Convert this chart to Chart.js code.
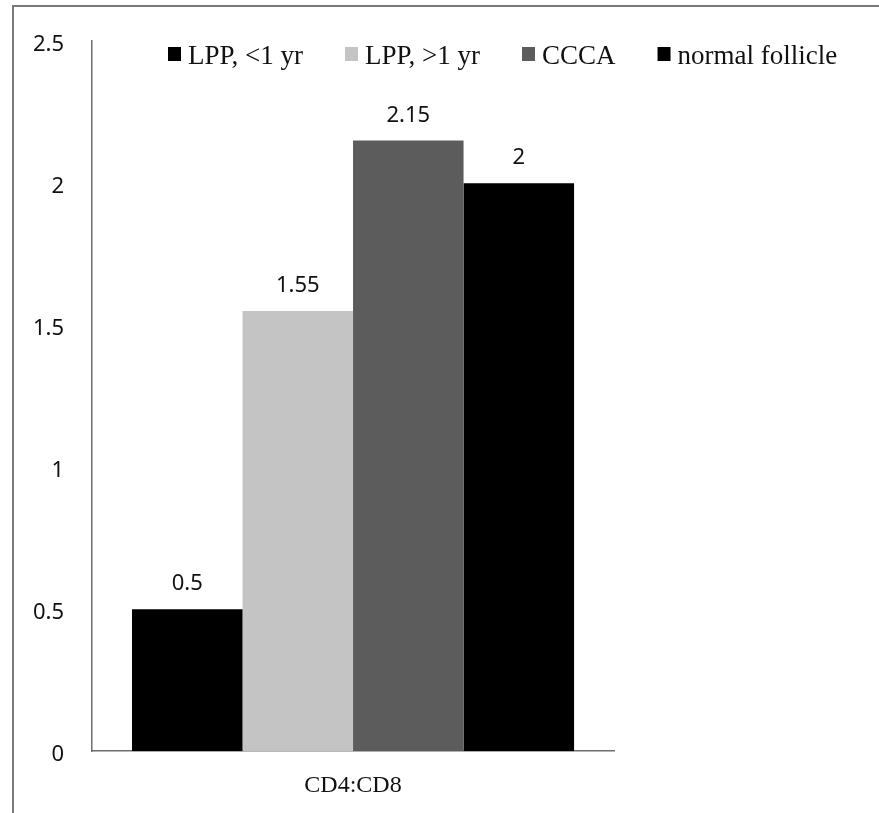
<!DOCTYPE html>
<html>
<head>
<meta charset="utf-8">
<title>CD4:CD8</title>
<script src="https://cdn.jsdelivr.net/npm/chart.js@4"></script>
<style>
  html, body { margin: 0; padding: 0; background: #fff; }
  #wrap { width: 879px; height: 813px; position: relative; }
</style>
</head>
<body>
<div id="wrap"><canvas id="chart"></canvas></div>
<script>
// ---------- data ----------
const categories = ['CD4:CD8'];
const seriesNames = ['LPP, <1 yr', 'LPP, >1 yr', 'CCCA', 'normal follicle'];
const seriesValues = [[0.5], [1.55], [2.15], [2]];
const seriesColors = ['#000000', '#c4c4c4', '#5c5c5c', '#000000'];
const yTicks = [0, 0.5, 1, 1.5, 2, 2.5];

const serif = '"Liberation Serif", "DejaVu Serif", serif';
const sans = '"Noto Sans", "Open Sans", sans-serif';

// ---------- plugins ----------
// outer frame (cropped, only top and left edge visible)
const framePlugin = {
  id: 'frame',
  beforeDraw(chart) {
    const ctx = chart.ctx;
    ctx.save();
    ctx.strokeStyle = '#7a7a7a';
    ctx.lineWidth = 2;
    ctx.beginPath();
    ctx.moveTo(chart.width, 6);
    ctx.lineTo(13, 6);
    ctx.lineTo(13, chart.height);
    ctx.stroke();
    ctx.restore();
  }
};

// value labels above bars
const valueLabels = {
  id: 'valueLabels',
  afterDatasetsDraw(chart) {
    const ctx = chart.ctx;
    ctx.save();
    ctx.font = '22px ' + sans;
    ctx.fillStyle = '#111';
    ctx.textAlign = 'center';
    ctx.textBaseline = 'alphabetic';
    chart.data.datasets.forEach((ds, i) => {
      chart.getDatasetMeta(i).data.forEach((bar, j) => {
        ctx.fillText(String(ds.data[j]), bar.x, bar.y - 19);
      });
    });
    ctx.restore();
  }
};

// legend drawn over the plot, in one row
const topLegend = {
  id: 'topLegend',
  afterDraw(chart) {
    const ctx = chart.ctx;
    ctx.save();
    ctx.font = '27px ' + serif;
    ctx.textBaseline = 'alphabetic';
    let x = 168;
    const baseline = 64;
    chart.data.datasets.forEach((ds) => {
      ctx.fillStyle = ds.backgroundColor;
      ctx.fillRect(x, 47, 13, 14);
      ctx.fillStyle = '#111';
      ctx.fillText(ds.label, x + 20, baseline);
      x += 20 + ctx.measureText(ds.label).width + 42;
    });
    ctx.restore();
  }
};

// ---------- chart ----------
const chart = document.getElementById('chart').getContext('2d');

new Chart(chart, {
  type: 'bar',
  data: {
    labels: categories,
    datasets: seriesNames.map((name, i) => ({
      label: name,
      data: seriesValues[i],
      backgroundColor: seriesColors[i],
      borderWidth: 0,
    })),
  },
  options: {
    responsive: true,
    maintainAspectRatio: false,
    animation: false,
    categoryPercentage: 0.847,
    barPercentage: 1,
    layout: {
      padding: { left: 5, right: 265, top: 35, bottom: -7 },
    },
    plugins: {
      legend: { display: false },
      tooltip: { enabled: false },
    },
    scales: {
      x: {
        grid: { display: false, drawTicks: false },
        border: { display: true, color: '#6e6e6e', width: 1.5 },
        ticks: {
          padding: 20,
          color: '#111',
          font: { family: serif, size: 24 },
        },
      },
      y: {
        min: 0,
        max: 2.5,
        afterBuildTicks(axis) {
          axis.ticks = yTicks.map((v) => ({ value: v }));
        },
        grid: { display: false, drawTicks: false },
        border: { display: true, color: '#6e6e6e', width: 1.5 },
        ticks: {
          padding: 28,
          labelOffset: 4,
          color: '#111',
          font: { family: sans, size: 22 },
          callback: (v) => String(v),
        },
      },
    },
  },
  plugins: [framePlugin, valueLabels, topLegend],
});
</script>
</body>
</html>
